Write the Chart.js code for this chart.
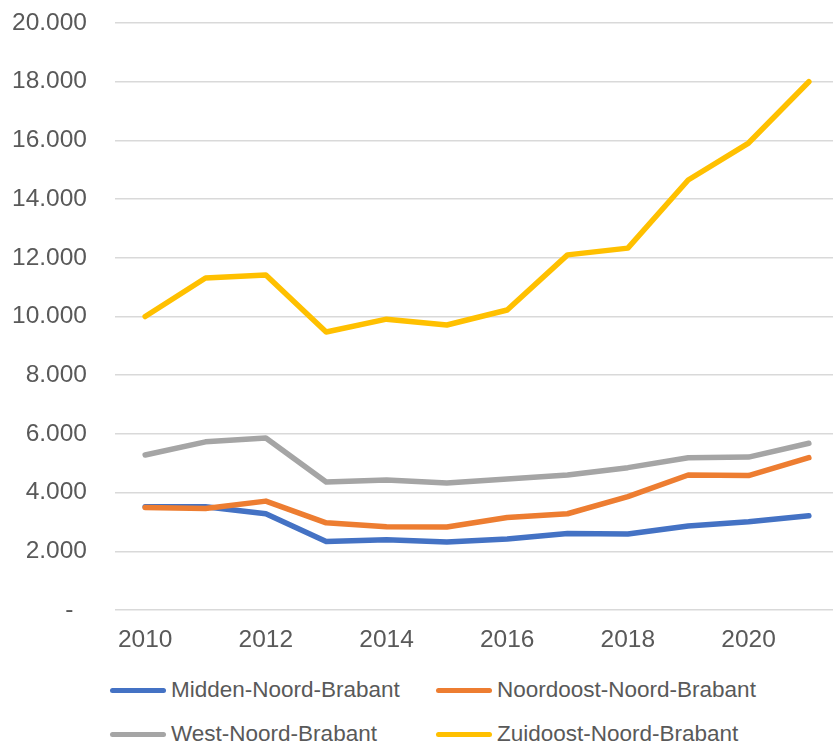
<!DOCTYPE html>
<html>
<head>
<meta charset="utf-8">
<script src="https://cdn.jsdelivr.net/npm/chart.js@4.4.0/dist/chart.umd.min.js"></script>
<style>
  html, body { margin: 0; padding: 0; background: #fff; overflow: hidden; }
  #wrap { position: relative; width: 833px; height: 745px; }
  #grafiek { position: absolute; left: 0; top: 0; }
  .leg-item { position: absolute; display: flex; align-items: center; height: 26px;
    font: 22.5px "Liberation Sans", Arial, sans-serif; color: #595959; white-space: nowrap; }
  .leg-lijn { width: 56px; height: 5px; border-radius: 3px; margin-right: 5px; }
</style>
</head>
<body>
<div id="wrap">
  <canvas id="grafiek" width="833" height="656"></canvas>
  <div id="legenda"></div>
</div>
<script>
// Data per regio
const jaren = [2010, 2011, 2012, 2013, 2014, 2015, 2016, 2017, 2018, 2019, 2020, 2021];
const midden = [3520, 3520, 3280, 2330, 2390, 2320, 2420, 2610, 2590, 2860, 3010, 3210];
const noordoost = [3490, 3460, 3710, 2970, 2840, 2830, 3150, 3280, 3860, 4600, 4580, 5190];
const west = [5280, 5730, 5860, 4360, 4430, 4330, 4460, 4600, 4850, 5190, 5210, 5680];
const zuidoost = [10000, 11310, 11410, 9470, 9910, 9710, 10220, 12100, 12330, 14650, 15910, 18000];
const jaarLabels = [2010, 2012, 2014, 2016, 2018, 2020];

const regios = [
    { naam: 'Midden-Noord-Brabant', data: midden, kleur: '#4472C4' },
    { naam: 'Noordoost-Noord-Brabant', data: noordoost, kleur: '#ED7D31' },
    { naam: 'West-Noord-Brabant', data: west, kleur: '#A5A5A5' },
    { naam: 'Zuidoost-Noord-Brabant', data: zuidoost, kleur: '#FFC000' }
];

const tekstKleur = '#595959';
const font = { family: '"Liberation Sans", Arial, sans-serif', size: 24.5 };

const ctx = document.getElementById('grafiek').getContext('2d');
new Chart(ctx, {
    type: 'line',
    data: {
        datasets: regios.map((r, i) => ({
            label: r.naam,
            data: jaren.map((j, k) => ({ x: j, y: r.data[k] })),
            borderColor: r.kleur,
            backgroundColor: r.kleur,
            borderWidth: 5.5,
            borderCapStyle: 'round',
            borderJoinStyle: 'round',
            pointRadius: 0,
            tension: 0,
            order: regios.length - i // laatste reeks bovenop, zoals in Excel
        }))
    },
    options: {
        responsive: false,
        animation: false,
        layout: { padding: { top: 23, right: 0, bottom: 0, left: 0 } },
        plugins: {
            legend: { display: false },
            tooltip: { enabled: false }
        },
        scales: {
            x: {
                type: 'linear',
                min: 2009.5,
                max: 2021.4,
                grid: { display: false, drawTicks: false },
                border: { display: false },
                afterBuildTicks: scale => {
                    scale.ticks = jaarLabels.map(v => ({ value: v }));
                },
                afterFit: scale => { scale.height = 46; },
                ticks: {
                    color: tekstKleur,
                    font: font,
                    padding: 16,
                    maxRotation: 0,
                    callback: v => String(v)
                }
            },
            y: {
                min: 0,
                max: 20000,
                afterFit: scale => {
                    scale.width = 115;
                    scale.paddingTop = 0;
                    scale.paddingBottom = 0;
                },
                grid: { color: '#D9D9D9', lineWidth: 1.5, drawTicks: false },
                border: { display: false },
                ticks: {
                    stepSize: 2000,
                    color: tekstKleur,
                    font: font,
                    padding: 28,
                    callback: v => v === 0 ? '-  ' : v.toLocaleString('nl-NL')
                }
            }
        }
    }
});

// Legenda in twee kolommen
const legenda = document.getElementById('legenda');
const posities = [[110, 677], [436, 677], [110, 721], [436, 721]];
regios.forEach((r, i) => {
    const item = document.createElement('div');
    item.className = 'leg-item';
    item.style.left = posities[i][0] + 'px';
    item.style.top = posities[i][1] + 'px';
    const lijn = document.createElement('div');
    lijn.className = 'leg-lijn';
    lijn.style.backgroundColor = r.kleur;
    const tekst = document.createElement('span');
    tekst.textContent = r.naam;
    item.appendChild(lijn);
    item.appendChild(tekst);
    legenda.appendChild(item);
});
</script>
</body>
</html>
